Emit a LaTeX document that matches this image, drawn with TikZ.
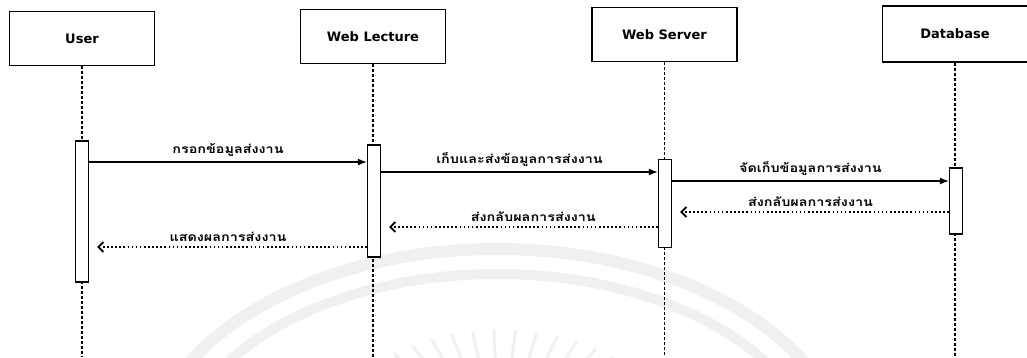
\documentclass[tikz,border=0pt]{standalone}
\usepackage{fontspec}
\setmainfont{DejaVu Sans}
\newfontfamily\thaifont[Script=Thai, FakeStretch=1.2]{Loma}
\usetikzlibrary{arrows.meta}

\begin{document}
\begin{tikzpicture}[x=1pt,y=-1pt,
  actor/.style={draw, line width=1.2pt, minimum width=145pt, minimum height=54pt,
                inner sep=0pt, font=\bfseries\fontsize{13}{15}\selectfont},
  bar/.style={draw, fill=white, line width=1.2pt, minimum width=13pt, inner sep=0pt},
  life/.style={line width=1.1pt, dash pattern=on 3pt off 2pt},
  call/.style={line width=1.4pt, -{Latex[length=9pt,width=7pt]}},
  reply/.style={line width=1.6pt, dash pattern=on 1.6pt off 2.5pt,
                -{Straight Barb[length=5pt,width=10pt,line width=1.8pt]}, shorten >=8pt},
  msglabel/.style={font=\thaifont\bfseries\fontsize{12}{14}\selectfont, inner sep=0pt},
  sealband/.style={black!6},
]
\useasboundingbox (0,0) rectangle (1027,357);

% faint seal in the background
\begin{scope}
  \clip (0,0) rectangle (1027,357);
  \draw[sealband, line width=12pt] (497,470) ellipse [x radius=352, y radius=221];
  \draw[sealband, line width=10pt] (497,470) ellipse [x radius=322, y radius=196];
  \foreach \a in {50,57,...,130}
    \draw[black!6, line width=3pt, line cap=round]
      ({500+115*cos(\a)},{445-72*sin(\a)}) -- ({500+175*cos(\a)},{445-114*sin(\a)});
\end{scope}

% participants
\node[actor] (user) at (82,38.5)   {User};
\node[actor] (wl)   at (373,36.5)  {Web Lecture};
\node[actor] (ws)   at (664.5,34.5){Web Server};
\node[actor, minimum height=56pt] (db) at (955,34) {Database};

% lifelines
\coordinate (bot) at (0,357);
\foreach \p in {user,wl,ws,db}
  \draw[life] (\p.south) -- (\p.south |- bot);

% activation bars
\node[bar, minimum height=141pt] (aU)  at (82,211.5) {};
\node[bar, minimum height=112pt] (aWL) at (374,201)  {};
\node[bar, minimum height=88pt]  (aWS) at (665,203.5) {};
\node[bar, minimum height=66pt]  (aDB) at (956,201)  {};

% message levels
\coordinate (y1) at (0,162);
\coordinate (y2) at (0,172);
\coordinate (y3) at (0,181);
\coordinate (y4) at (0,212);
\coordinate (y5) at (0,227);
\coordinate (y6) at (0,247);

\draw[call] (aU.east |- y1) -- (aWL.west |- y1)
  node[msglabel, midway, above=5pt] {กรอกข้อมูลส่งงาน};
\draw[call] (aWL.east |- y2) -- (aWS.west |- y2)
  node[msglabel, midway, above=5pt] {เก็บและส่งข้อมูลการส่งงาน};
\draw[call] (aWS.east |- y3) -- (aDB.west |- y3)
  node[msglabel, midway, above=5pt] {จัดเก็บข้อมูลการส่งงาน};
\draw[reply] (aDB.west |- y4) -- (aWS.east |- y4)
  node[msglabel, midway, above=5pt] {ส่งกลับผลการส่งงาน};
\draw[reply] (aWS.west |- y5) -- (aWL.east |- y5)
  node[msglabel, pos=0.45, above=5pt] {ส่งกลับผลการส่งงาน};
\draw[reply] (aWL.west |- y6) -- (aU.east |- y6)
  node[msglabel, midway, above=5pt] {แสดงผลการส่งงาน};
\end{tikzpicture}
\end{document}
